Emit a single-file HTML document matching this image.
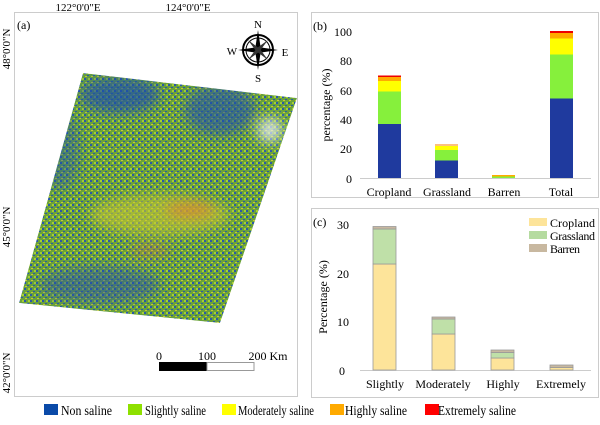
<!DOCTYPE html>
<html><head><meta charset="utf-8"><style>
body{margin:0;background:#fff;width:600px;height:420px;overflow:hidden}
svg{font-family:"Liberation Serif",serif}
</style></head><body>
<svg width="600" height="420" viewBox="0 0 600 420">
<defs>
<pattern id="tex" width="6" height="6" patternUnits="userSpaceOnUse">
<rect width="6" height="6" fill="#6aa23a"/>
<rect x="0" y="0" width="2" height="2" fill="#2a58a8"/>
<rect x="3" y="3" width="2" height="1" fill="#2a58a8"/>
<rect x="4" y="0" width="2" height="2" fill="#a8d030"/>
<rect x="1" y="4" width="2" height="1" fill="#c8c838"/>
</pattern>
<clipPath id="mc"><polygon points="83,73 297,98 220,323 19,303"/></clipPath>
<filter id="bl"><feGaussianBlur stdDeviation="6"/></filter>
</defs>
<rect x="14.5" y="12.5" width="283" height="384" fill="#fff" stroke="#ccc"/>
<text x="78" y="11" font-size="11" text-anchor="middle">122°0'0"E</text>
<text x="188" y="11" font-size="11" text-anchor="middle">124°0'0"E</text>
<text font-size="11" transform="translate(10,49) rotate(-90)" text-anchor="middle">48°0'0"N</text>
<text font-size="11" transform="translate(10,227) rotate(-90)" text-anchor="middle">45°0'0"N</text>
<text font-size="11" transform="translate(10,373) rotate(-90)" text-anchor="middle">42°0'0"N</text>
<text x="17" y="29" font-size="12">(a)</text>
<g clip-path="url(#mc)">
<polygon points="83,73 297,98 220,323 19,303" fill="url(#tex)"/>
<g filter="url(#bl)">
<ellipse cx="120" cy="95" rx="40" ry="18" fill="#1f4fa8" opacity=".7"/>
<ellipse cx="220" cy="110" rx="35" ry="25" fill="#1f4fa8" opacity=".6"/>
<ellipse cx="270" cy="130" rx="12" ry="12" fill="#e8eef4" opacity=".8"/>
<ellipse cx="160" cy="215" rx="70" ry="20" fill="#c8c830" opacity=".6"/>
<ellipse cx="190" cy="210" rx="25" ry="8" fill="#e07a30" opacity=".6"/>
<ellipse cx="150" cy="250" rx="20" ry="5" fill="#d07040" opacity=".5"/>
<ellipse cx="100" cy="285" rx="60" ry="18" fill="#1f4fa8" opacity=".5"/>
<ellipse cx="60" cy="150" rx="20" ry="40" fill="#1f4fa8" opacity=".4"/>
</g>
</g>
<g transform="translate(258,50)">
<circle r="15" fill="none" stroke="#000" stroke-width="2"/>
<circle r="12" fill="none" stroke="#000" stroke-width="1"/>
<polygon points="0,-20 3,0 0,20 -3,0" fill="#000"/>
<polygon points="-20,0 0,3 20,0 0,-3" fill="#000"/>
<polygon points="-10,-10 2,-1 10,10 -2,1" fill="#333"/>
<polygon points="10,-10 1,2 -10,10 -1,-2" fill="#333"/>
</g>
<text x="258" y="28" font-size="11" text-anchor="middle">N</text>
<text x="258" y="82" font-size="11" text-anchor="middle">S</text>
<text x="232" y="55" font-size="11" text-anchor="middle">W</text>
<text x="285" y="56" font-size="11" text-anchor="middle">E</text>
<text x="159" y="360" font-size="12" text-anchor="middle">0</text>
<text x="207" y="360" font-size="12" text-anchor="middle">100</text>
<text x="268" y="360" font-size="12" text-anchor="middle">200 Km</text>
<rect x="159" y="362" width="48" height="9" fill="#000"/>
<rect x="207" y="362.5" width="47" height="8" fill="#fff" stroke="#999"/>
<!-- panel b -->
<rect x="311.5" y="12.5" width="287" height="185" fill="#fff" stroke="#ccc"/>
<text x="313" y="30" font-size="12">(b)</text>
<line x1="360" y1="178.5" x2="591" y2="178.5" stroke="#ccc"/>
<g font-size="12" text-anchor="end">
<text x="352" y="183">0</text><text x="352" y="153">20</text><text x="352" y="124">40</text><text x="352" y="95">60</text><text x="352" y="65">80</text><text x="352" y="36">100</text>
</g>
<text font-size="12" transform="translate(330,105) rotate(-90)" text-anchor="middle">percentage (%)</text>
<rect x="378" y="124" width="23" height="54" fill="#1f3a9e"/>
<rect x="378" y="91.5" width="23" height="32.5" fill="#86f03c"/>
<rect x="378" y="81" width="23" height="10.5" fill="#ffff00"/>
<rect x="378" y="77" width="23" height="4" fill="#ffaa00"/>
<rect x="378" y="75.5" width="23" height="1.5" fill="#e00"/>
<rect x="435" y="160.5" width="23" height="17.5" fill="#1f3a9e"/>
<rect x="435" y="150" width="23" height="10.5" fill="#86f03c"/>
<rect x="435" y="146" width="23" height="4" fill="#ffff00"/>
<rect x="435" y="144" width="23" height="2" fill="#fbc080"/>
<rect x="492" y="176.5" width="23" height="1.5" fill="#86f03c"/>
<rect x="492" y="175" width="23" height="1.5" fill="#ffaa00"/>
<rect x="550" y="98.5" width="23" height="79.5" fill="#1f3a9e"/>
<rect x="550" y="54.5" width="23" height="44" fill="#86f03c"/>
<rect x="550" y="38.5" width="23" height="16" fill="#ffff00"/>
<rect x="550" y="33" width="23" height="5.5" fill="#ffaa00"/>
<rect x="550" y="31" width="23" height="2" fill="#e00"/>
<g font-size="12" text-anchor="middle">
<text x="389" y="196">Cropland</text><text x="447" y="196">Grassland</text><text x="504" y="196">Barren</text><text x="561" y="196">Total</text>
</g>
<!-- panel c -->
<rect x="311.5" y="208.5" width="287" height="189" fill="#fff" stroke="#ccc"/>
<text x="313" y="226" font-size="12">(c)</text>
<line x1="360" y1="370.5" x2="591" y2="370.5" stroke="#ccc"/>
<g font-size="12" text-anchor="end">
<text x="345" y="375">0</text><text x="349" y="326">10</text><text x="349" y="278">20</text><text x="349" y="229">30</text>
</g>
<text font-size="12" transform="translate(327,297) rotate(-90)" text-anchor="middle">Percentage (%)</text>
<g stroke="#999" stroke-width="0.8">
<rect x="373" y="264" width="23" height="106" fill="#fde49a"/>
<rect x="373" y="229" width="23" height="35" fill="#bfe0a8"/>
<rect x="373" y="226.5" width="23" height="2.5" fill="#c8b8a0"/>
<rect x="432" y="334" width="23" height="36" fill="#fde49a"/>
<rect x="432" y="319" width="23" height="15" fill="#bfe0a8"/>
<rect x="432" y="317" width="23" height="2" fill="#c8b8a0"/>
<rect x="491" y="358" width="23" height="12" fill="#fde49a"/>
<rect x="491" y="352.5" width="23" height="5.5" fill="#bfe0a8"/>
<rect x="491" y="350" width="23" height="2.5" fill="#c8b8a0"/>
<rect x="550" y="367.5" width="23" height="2.5" fill="#fde49a"/>
<rect x="550" y="365" width="23" height="2.5" fill="#c8b8a0"/>
</g>
<rect x="529" y="218" width="18" height="8" fill="#fde49a"/>
<rect x="529" y="231" width="18" height="8" fill="#b5dba0"/>
<rect x="529" y="244" width="18" height="8" fill="#c8b8a0"/>
<g font-size="12"><text x="550" y="227" textLength="45">Cropland</text><text x="550" y="240" textLength="45">Grassland</text><text x="550" y="253" textLength="30">Barren</text></g>
<g font-size="12" text-anchor="middle">
<text x="385" y="388">Slightly</text><text x="443" y="388">Moderately</text><text x="503" y="388">Highly</text><text x="561" y="388">Extremely</text>
</g>
<!-- legend -->
<g font-size="14">
<rect x="44" y="404" width="14" height="11" fill="#0a4aa8"/><text x="61" y="415" textLength="51" lengthAdjust="spacingAndGlyphs">Non saline</text>
<rect x="128" y="404" width="14" height="11" fill="#8ee000"/><text x="145" y="415" textLength="61" lengthAdjust="spacingAndGlyphs">Slightly saline</text>
<rect x="222" y="404" width="14" height="11" fill="#ffff00"/><text x="238" y="415" textLength="76" lengthAdjust="spacingAndGlyphs">Moderately saline</text>
<rect x="330" y="404" width="14" height="11" fill="#ffaa00"/><text x="345" y="415" textLength="62" lengthAdjust="spacingAndGlyphs">Highly saline</text>
<rect x="425" y="404" width="14" height="11" fill="#ff0000"/><text x="438" y="415" textLength="78" lengthAdjust="spacingAndGlyphs">Extremely saline</text>
</g>
</svg>
</body></html>
